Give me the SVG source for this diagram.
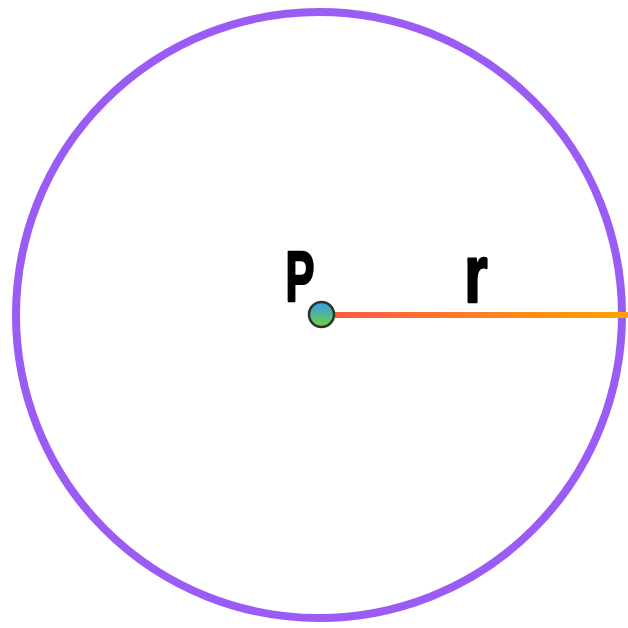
<svg xmlns="http://www.w3.org/2000/svg" width="628" height="628" viewBox="0 0 628 628">
  <defs>
    <linearGradient id="radGrad" gradientUnits="userSpaceOnUse" x1="330" y1="315" x2="628" y2="315">
      <stop offset="0" stop-color="#ff5a45"/>
      <stop offset="1" stop-color="#ffa400"/>
    </linearGradient>
    <linearGradient id="dotGrad" x1="0" y1="0" x2="0" y2="1">
      <stop offset="0" stop-color="#2f9cf0"/>
      <stop offset="1" stop-color="#72d23a"/>
    </linearGradient>
    <style>
      .lbl { font-family: "Liberation Sans", Arial, sans-serif; font-weight: bold; fill: #000; stroke: #000; stroke-width: 2.5; stroke-linejoin: round; text-anchor: middle; }
    </style>
  </defs>
  <rect width="628" height="628" fill="#ffffff"/>
  <g id="circle">
    <circle cx="319" cy="315" r="303" fill="none" stroke="#9b5cf5" stroke-width="8"/>
  </g>
  <g id="connectors">
    <line x1="330" y1="315" x2="628" y2="315" stroke="url(#radGrad)" stroke-width="6"/>
  </g>
  <g id="center-P">
    <circle cx="321.5" cy="314.5" r="12.5" fill="url(#dotGrad)" stroke="#2b3326" stroke-width="2.5"/>
    <text class="lbl" font-size="70" transform="translate(300,301) scale(0.62,1)">P</text>
  </g>
  <g id="radius-label">
    <text class="lbl" font-size="81" transform="translate(476,302) scale(0.74,1)">r</text>
  </g>
</svg>
